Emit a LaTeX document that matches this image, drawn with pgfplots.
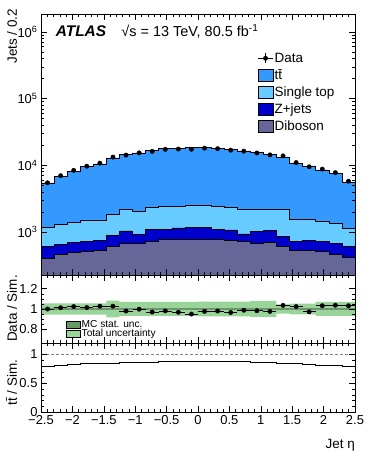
\documentclass[border=0pt]{standalone}
\usepackage{fontspec}
\setmainfont{Liberation Sans}
\usepackage{pgfplots}
\pgfplotsset{compat=1.18}
\usepackage{pgfplotstable}

\definecolor{ttcol}{RGB}{51,153,255}
\definecolor{stcol}{RGB}{102,204,255}
\definecolor{zcol}{RGB}{0,0,204}
\definecolor{dbcol}{RGB}{102,102,153}
\definecolor{statcol}{RGB}{102,153,102}
\definecolor{unccol}{RGB}{153,212,153}

% 24 bins, left edges (last row closes the histogram)
\pgfplotstableread{
lo        tot    st    z     db   frac  up    dn    sup   sdn
-2.5      5460   1163  614   399  0.797 1.055 0.945 1.008 0.992
-2.29167  6890   1307  658   464  0.820 1.055 0.945 1.008 0.992
-2.08333  8200   1385  689   498  0.832 1.055 0.945 1.008 0.992
-1.875    9550   1520  731   515  0.840 1.055 0.945 1.008 0.992
-1.66667  10475  1520  757   534  0.849 1.055 0.945 1.008 0.992
-1.45833  12912  1831  880   614  0.849 1.083 0.917 1.008 0.992
-1.25     14505  2180  1035  673  0.855 1.069 0.931 1.008 0.992
-1.04167  15380  2009  911   673  0.866 1.069 0.931 1.008 0.992
-0.83333  16680  2337  1097  731  0.866 1.069 0.931 1.008 0.992
-0.625    17680  2392  1097  774  0.878 1.069 0.931 1.008 0.992
-0.41667  18100  2448  1150  774  0.878 1.069 0.931 1.008 0.992
-0.20833  18310  2506  1177  783  0.878 1.069 0.931 1.008 0.992
0         18520  2506  1177  783  0.878 1.072 0.928 1.008 0.992
0.20833   18100  2420  1097  783  0.878 1.072 0.928 1.008 0.992
0.41667   17470  2364  1072  757  0.878 1.072 0.928 1.008 0.992
0.625     16490  2205  933   714  0.878 1.072 0.928 1.008 0.992
0.83333   15560  2205  1012  673  0.860 1.080 0.920 1.008 0.992
1.04167   14680  2180  1060  689  0.855 1.080 0.920 1.008 0.992
1.25      13380  2154  850   614  0.849 1.045 0.955 1.008 0.992
1.45833   10720  1556  714   534  0.849 1.052 0.948 1.008 0.992
1.66667   9770   1538  757   534  0.832 1.052 0.948 1.008 0.992
1.875     8500   1468  731   504  0.820 1.069 0.931 1.008 0.992
2.08333   7480   1353  673   464  0.810 1.069 0.931 1.008 0.992
2.29167   5590   1137  600   413  0.797 1.069 0.931 1.008 0.992
2.5       5590   1137  600   413  0.797 1.069 0.931 1.008 0.992
}\mc

\pgfplotstableread{
c         d      r
-2.39583  5460   1.000
-2.1875   6973   1.012
-1.97917  8397   1.024
-1.77083  9684   1.014
-1.5625   10768  1.028
-1.35417  13274  1.028
-1.14583  14215  0.980
-0.9375   15349  0.998
-0.72917  16180  0.970
-0.52083  17344  0.981
-0.3125   17521  0.968
-0.10417  17395  0.950
0.10417   18076  0.976
0.3125    17738  0.980
0.52083   16876  0.966
0.72917   16292  0.988
0.9375    15295  0.983
1.14583   14328  0.976
1.35417   13862  1.036
1.5625    10977  1.024
1.77083   9496   0.972
1.97917   8772   1.032
2.1875    7757   1.037
2.39583   5769   1.032
}\data

\pgfplotsset{
  atlas/.style={
    scale only axis, width=314bp, axis on top,
    xmin=-2.5, xmax=2.5,
    xtick={-2.5,-2,...,2.5}, minor x tick num=4,
    tick pos=both, tick align=inside,
    major tick length=6bp, minor tick length=3bp,
    every tick/.style={black, line width=0.5bp},
    axis line style={line width=0.7bp},
    /pgf/number format/assume math mode=true,
    tick label style={font=\fontsize{13}{15}\selectfont},
    label style={font=\fontsize{13.5}{16}\selectfont, inner sep=0pt},
    ylabel style={anchor=south east},
  },
  boxleg/.style={legend image code/.code={\draw[##1, draw=black, line width=0.5bp] (0bp,-6bp) rectangle (15bp,6bp);}},
  rboxleg/.style={legend image code/.code={\draw[##1, draw=black, line width=0.5bp] (0bp,-3.8bp) rectangle (14bp,3.8bp);}},
  dataleg/.style={legend image code/.code={
      \draw[black, line width=0.7bp] (0bp,0bp) -- (15bp,0bp);
      \draw[black, line width=0.7bp] (7.5bp,-5bp) -- (7.5bp,5bp);
      \fill[black] (7.5bp,0bp) circle (2.2bp);}},
}

\begin{document}
\begin{tikzpicture}
\useasboundingbox (0,0) rectangle (374bp,-458bp);

% main panel
\begin{axis}[atlas, at={(41bp,-14bp)}, anchor=north west, height=261bp,
  ymode=log, ymin=226, ymax=1.86e6,
  ytick={1e3,1e4,1e5,1e6},
  yticklabels={10\textsuperscript{3},10\textsuperscript{4},10\textsuperscript{5},10\textsuperscript{6}},
  xticklabels={},
  ylabel={Jets / 0.2},
  ylabel style={at={(rel axis cs:-0.076,1.02)}},
  legend style={at={(rel axis cs:0.68,0.864)}, anchor=north west, draw=none, fill=none,
    font=\fontsize{13.5}{16}\selectfont, row sep=3.3bp, nodes={inner sep=1.2bp}},
  legend cell align=left,
]
\addlegendimage{dataleg}\addlegendentry{Data}
\addlegendimage{boxleg, fill=ttcol}\addlegendentry{t\=t}
\addlegendimage{boxleg, fill=stcol}\addlegendentry{Single top}
\addlegendimage{boxleg, fill=zcol}\addlegendentry{Z+jets}
\addlegendimage{boxleg, fill=dbcol}\addlegendentry{Diboson}

\addplot[const plot, fill=ttcol, draw=black, line width=0.6bp, forget plot] table[x=lo, y=tot] {\mc} \closedcycle;
\addplot[const plot, fill=stcol, draw=black, line width=0.6bp, forget plot] table[x=lo, y=st] {\mc} \closedcycle;
\addplot[const plot, fill=zcol, draw=black, line width=0.6bp, forget plot] table[x=lo, y=z] {\mc} \closedcycle;
\addplot[const plot, fill=dbcol, draw=black, line width=0.6bp, forget plot] table[x=lo, y=db] {\mc} \closedcycle;
\addplot[only marks, mark=*, mark size=2.2bp, black, forget plot] table[x=c, y=d] {\data};

\node[anchor=base west, font=\fontsize{15.5}{18}\selectfont\bfseries\itshape] at (rel axis cs:0.036,0.913) {ATLAS};
\node[anchor=base west, font=\fontsize{14.5}{17}\selectfont] at (rel axis cs:0.245,0.913) {√s = 13 TeV, 80.5 fb\textsuperscript{-1}};
\end{axis}

% data / simulation
\begin{axis}[atlas, at={(41bp,-275bp)}, anchor=north west, height=68bp,
  ymin=0.665, ymax=1.335,
  ytick={0.8,1,1.2}, yticklabels={0.8,1,1.2}, minor y tick num=3,
  xticklabels={},
  ylabel={Data / Sim.},
  ylabel style={at={(rel axis cs:-0.076,1.0)}},
  legend style={at={(rel axis cs:0.07,0.38)}, anchor=north west, draw=none, fill=none,
    font=\fontsize{10.2}{12}\selectfont, row sep=-1.5bp, nodes={inner sep=1bp}},
  legend cell align=left,
]
\addlegendimage{rboxleg, fill=statcol}\addlegendentry{MC stat. unc.}
\addlegendimage{rboxleg, fill=unccol}\addlegendentry{Total uncertainty}

% nested step fills: total band, MC stat band, then cleared below
\addplot[const plot, fill=unccol, draw=none, forget plot] table[x=lo, y=up] {\mc} \closedcycle;
\addplot[const plot, fill=statcol, draw=none, forget plot] table[x=lo, y=sup] {\mc} \closedcycle;
\addplot[const plot, fill=unccol, draw=none, forget plot] table[x=lo, y=sdn] {\mc} \closedcycle;
\addplot[const plot, fill=white, draw=none, forget plot] table[x=lo, y=dn] {\mc} \closedcycle;
\addplot[gray, densely dashed, line width=0.6bp, forget plot] coordinates {(-2.5,1) (2.5,1)};
\addplot[only marks, mark=*, mark size=2.2bp, black, forget plot,
  error bars/.cd, x dir=both, x fixed=0.10417, y dir=both, y fixed=0.012,
  error bar style={line width=0.7bp}, error mark=none]
  table[x=c, y=r] {\data};
\end{axis}

% ttbar / simulation
\begin{axis}[atlas, at={(41bp,-343bp)}, anchor=north west, height=69bp,
  ymin=0, ymax=1.2,
  ytick={0,0.5,1}, yticklabels={0,0.5,1}, minor y tick num=4,
  xticklabels={−2.5,−2,−1.5,−1,−0.5,0,0.5,1,1.5,2,2.5},
  ylabel={t\=t / Sim.},
  ylabel style={at={(rel axis cs:-0.076,0.76)}},
  xlabel={Jet η},
  xlabel style={at={(rel axis cs:1,-0.536)}, anchor=base east},
]
\addplot[gray, densely dashed, line width=0.6bp] coordinates {(-2.5,1) (2.5,1)};
\addplot[const plot, black, line width=0.7bp] table[x=lo, y=frac] {\mc};
\end{axis}
\end{tikzpicture}
\end{document}
